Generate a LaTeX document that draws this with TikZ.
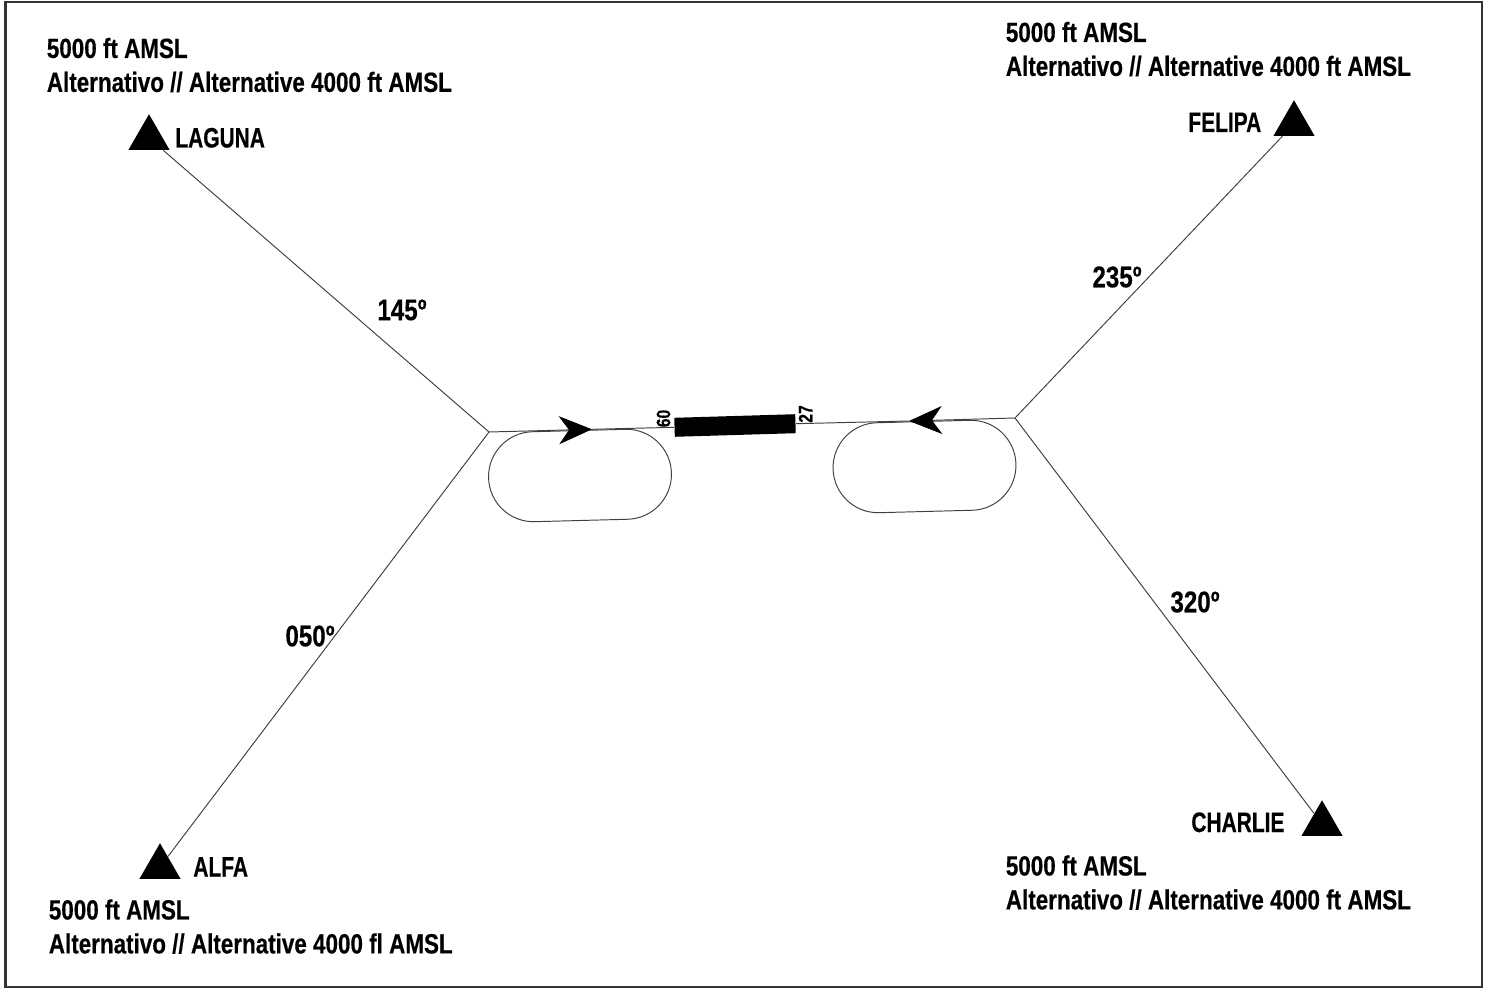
\documentclass[tikz,border=0pt]{standalone}
\usepackage{fontspec}
\setmainfont[FakeStretch=0.808,BoldFeatures={FakeBold=0.4}]{Liberation Sans}
\newfontfamily\tagfont[FakeStretch=0.745,BoldFeatures={FakeBold=0.4}]{Liberation Sans}
\usetikzlibrary{arrows.meta,shapes.geometric,shapes.misc}

\tikzset{
  fix/.style={regular polygon,regular polygon sides=3,fill=black,inner sep=0pt,minimum size=0.95cm},
  leg/.style={color=black!75,line width=0.55pt},
  circuit/.style={rounded rectangle,draw=black!75,line width=0.55pt,inner sep=0pt,minimum width=3.66cm,minimum height=1.8cm,rotate=1.5},
  inbound/.style={leg,-{Stealth[length=0.66cm,width=0.56cm,inset=0.2cm,color=black]}},
  info/.style={font=\fontsize{15.8}{19.3}\selectfont\bfseries,align=left,anchor=north west,inner sep=0pt},
  tag/.style={font=\tagfont\fontsize{16}{18}\selectfont\bfseries,anchor=base west,inner sep=0pt},
  course/.style={font=\fontsize{17}{20}\selectfont\bfseries,inner sep=0pt},
  rwynum/.style={font=\fontsize{11}{12}\selectfont\bfseries,inner sep=0pt,rotate=90}
}

\begin{document}
\begin{tikzpicture}[x=0.02cm,y=-0.02cm]
\useasboundingbox (0,0) rectangle (1490,989);

%draw frame
\draw[color=black!80,line width=1.5pt] (5.5,2) rectangle (1482,987);

%draw fixes
\node[fix] (laguna) at (149,138) {};
\node[fix] (felipa) at (1294,124) {};
\node[fix] (charlie) at (1322,824) {};
\node[fix] (alfa) at (160,867) {};

%draw runway and circuits
\coordinate (west) at (489,432);
\coordinate (east) at (1015,418);
\coordinate (arrowW) at (592,429.3);
\coordinate (arrowE) at (909,421);
\node[fill=black,inner sep=0pt,minimum width=2.42cm,minimum height=0.38cm,rotate=1.7] (runway) at (735,425.5) {};
\node[circuit] (circuitW) at (580,475.5) {};
\node[circuit] (circuitE) at (924.5,466.5) {};

%draw legs
\draw[leg] (laguna) -- (west);
\draw[leg] (alfa) -- (west);
\draw[leg] (felipa) -- (east);
\draw[leg] (charlie) -- (east);
\draw[inbound] (west) -- (arrowW);
\draw[inbound] (east) -- (arrowE);
\draw[leg] (arrowW) -- (runway.west);
\draw[leg] (arrowE) -- (runway.east);

%runway numbers
\node[rwynum] (rwy60) at (663.5,418.5) {60};
\node[rwynum] (rwy27) at (805.5,414) {27};

%courses
\node[course] (crsL) at (402,310) {145º};
\node[course] (crsF) at (1117,277) {235º};
\node[course] (crsA) at (310,636) {050º};
\node[course] (crsC) at (1195,602) {320º};

%fix names
\node[tag] (nameL) at (175,147.5) {LAGUNA};
\node[tag] (nameF) at (1188,132) {FELIPA};
\node[tag] (nameC) at (1191,832) {CHARLIE};
\node[tag] (nameA) at (193,876.5) {ALFA};

%altitudes
\node[info] (altL) at (46.5,37.5) {5000 ft AMSL\\Alternativo // Alternative 4000 ft AMSL};
\node[info] (altF) at (1005.5,21.5) {5000 ft AMSL\\Alternativo // Alternative 4000 ft AMSL};
\node[info] (altA) at (48.5,899) {5000 ft AMSL\\Alternativo // Alternative 4000 fl AMSL};
\node[info] (altC) at (1005.5,855) {5000 ft AMSL\\Alternativo // Alternative 4000 ft AMSL};
\end{tikzpicture}
\end{document}
